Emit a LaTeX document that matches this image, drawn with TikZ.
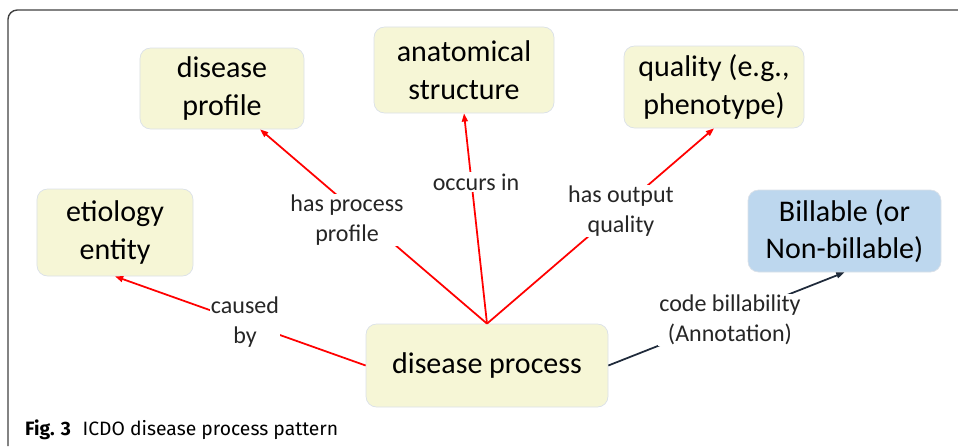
\documentclass[tikz,border=0pt]{standalone}
\usepackage{fontspec}
\setmainfont{Carlito}
\newfontfamily\capfont{Fira Sans}
\usetikzlibrary{arrows.meta}
\definecolor{boxfill}{RGB}{246,246,214}
\definecolor{boxline}{RGB}{218,224,232}
\definecolor{billfill}{RGB}{189,215,238}
\definecolor{darkline}{RGB}{31,42,58}
\begin{document}
\begin{tikzpicture}[x=0.03cm,y=-0.03cm,
	concept/.style={draw=boxline,fill=boxfill,rounded corners=9pt,line width=0.6pt,align=center,inner sep=0pt,font=\fontsize{25.6}{32}\selectfont},
	rel/.style={fill=white,align=center,inner sep=1pt,text=black!85,font=\fontsize{20.5}{25.5}\selectfont},
	isa/.style={red,line width=1.5pt,-{Triangle[length=7pt,width=5pt]}},
	note/.style={darkline,line width=1.5pt,-{Triangle[length=7pt,width=5pt]}}]
	\useasboundingbox (0,0) rectangle (958,446);
	\draw [black!75,line width=1.2pt,rounded corners=8pt] (8,446) -- (8,10) -- (958,10);
	% concepts
	\node [concept,minimum width=4.92cm,minimum height=2.43cm] (prof) at (222,88.5) {disease\\profile};
	\node [concept,minimum width=5.4cm,minimum height=2.58cm] (anat) at (464,70) {anatomical\\structure};
	\node [concept,minimum width=5.4cm,minimum height=2.46cm] (qual) at (714,87) {quality (e.g.,\\phenotype)};
	\node [concept,minimum width=4.68cm,minimum height=2.61cm] (etio) at (115,232.5) {etiology\\entity};
	\node [concept,fill=billfill,minimum width=5.79cm,minimum height=2.46cm] (bill) at (844.5,231) {Billable (or\\Non-billable)};
	\node [concept,minimum width=7.26cm,minimum height=2.49cm] (dp) at (487,365.5) {disease process};
	% relations
	\draw [isa] (dp.north) -- (prof.-47);
	\draw [isa] (dp.north) -- (anat.south);
	\draw [isa] (dp.north) -- (qual.south);
	\draw [isa] (dp.west) -- (etio.south);
	\draw [note] (dp.east) -- (bill.south);
	\node [rel] (l1) at (347,220) {has process\\profile};
	\node [rel] (l2) at (476,182) {occurs in};
	\node [rel] (l3) at (621,211) {has output\\quality};
	\node [rel] (l4) at (245,322) {caused\\by};
	\node [rel] (l5) at (730,320) {code billability\\(Annotation)};
	\node [anchor=base west,inner sep=0pt,font=\capfont\fontsize{16.5}{19}\selectfont] (cap) at (25,435) {\textbf{Fig. 3}\hspace{0.6em}ICDO disease process pattern};
\end{tikzpicture}
\end{document}
